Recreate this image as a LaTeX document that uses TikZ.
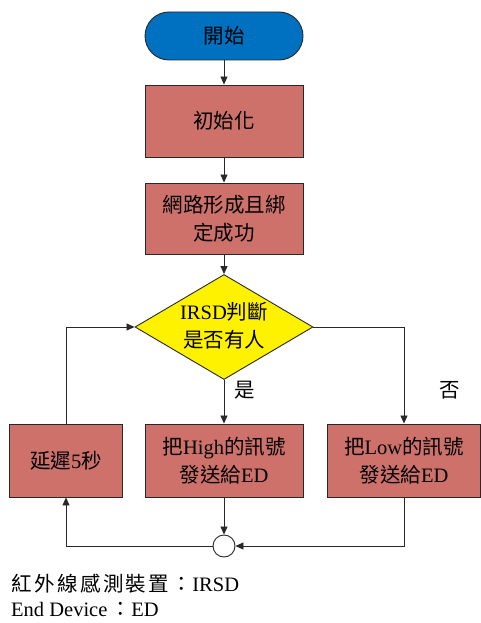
\documentclass[tikz,border=0pt]{standalone}
\usepackage{fontspec}
\setmainfont{Liberation Serif}
\newfontfamily\cjk{Noto Sans CJK TC}
\newfontfamily\cjkw[LetterSpace=12]{Noto Sans CJK TC}
\usetikzlibrary{arrows.meta,shapes.geometric}
\definecolor{boxred}{RGB}{205,113,106}
\definecolor{startblue}{RGB}{0,112,192}
\definecolor{edge}{RGB}{40,40,40}
\tikzset{
  txt/.style={font=\fontsize{20.5}{28}\selectfont, align=center, text=black},
  term/.style={txt, draw=edge, line width=0.9pt, fill=startblue, rounded corners=24pt, minimum width=158pt, minimum height=48pt, inner sep=0pt},
  proc/.style={txt, draw=edge, line width=0.9pt, fill=boxred, minimum height=72pt, inner sep=0pt},
  dia/.style={diamond, draw=edge, line width=0.9pt, fill=yellow, minimum width=178pt, minimum height=105pt, inner sep=0pt},
  joint/.style={circle, draw=edge, line width=0.9pt, fill=white, minimum size=22pt, inner sep=0pt},
  conn/.style={draw=edge, line width=0.8pt},
  arr/.style={conn, -{Triangle[length=8pt,width=7pt]}},
  lab/.style={font=\fontsize{20.5}{24}\selectfont, text=black, inner sep=0pt}
}
\begin{document}
\begin{tikzpicture}[x=1pt,y=-1pt]
\useasboundingbox (0,0) rectangle (481,623);
\node[term] (start) at (224,36) {{\cjk 開始}};
\node[proc, minimum width=158pt] (init) at (224,121) {{\cjk 初始化}};
\node[proc, minimum width=158pt, minimum height=71pt] (net) at (224,218.5) {{\cjk 網路形成且綁}\\{\cjk 定成功}};
\node[dia] (dec) at (224,327) {};
\node[txt, inner sep=0pt] (dectxt) at (224,326) {IRSD{\cjk 判斷}\\{\cjk 是否有人}};
\node[proc, minimum width=113pt, minimum height=73pt] (lbox) at (66,460.5) {{\cjk 延遲}5{\cjk 秒}};
\node[proc, minimum width=158pt, minimum height=73pt] (mbox) at (224,460.5) {{\cjk 把}High{\cjk 的訊號}\\{\cjk 發送給}ED};
\node[proc, minimum width=153pt, minimum height=73pt] (rbox) at (404,460.5) {{\cjk 把}Low{\cjk 的訊號}\\{\cjk 發送給}ED};
\node[joint] (join) at (224,546) {};
\node[lab] (yes) at (245,390) {{\cjk 是}};
\node[lab] (no) at (450,390) {{\cjk 否}};
\node[lab, anchor=west] (leg1) at (11,584) {{\cjkw 紅外線感測裝置：}IRSD};
\node[lab, anchor=west] (leg2) at (11,609) {End Device\,{\cjkw ：}ED};
\draw[arr] (start.south) -- (init.north);
\draw[arr] (init.south) -- (net.north);
\draw[arr] (net.south) -- (dec.north);
\draw[arr] (dec.south) -- (mbox.north);
\draw[arr] (dec.east) -| (rbox.north);
\draw[arr] (mbox.south) -- (join.north);
\draw[arr] (rbox.south) |- (join.east);
\draw[arr] (join.west) -| (lbox.south);
\draw[arr] (lbox.north) |- (dec.west);
\end{tikzpicture}
\end{document}
